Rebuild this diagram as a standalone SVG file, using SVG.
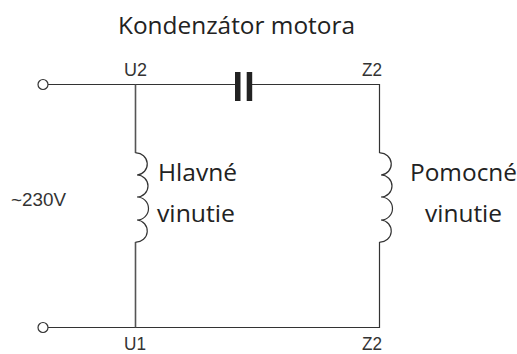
<svg xmlns="http://www.w3.org/2000/svg" width="517" height="354" viewBox="0 0 517 354">
<style>
.w{fill:none;stroke:#333;stroke-width:1.2}
.v{fill:none;stroke:#555;stroke-width:1.6}
.c{fill:none;stroke:#333;stroke-width:1.2}
.t{fill:#fff;stroke:#333;stroke-width:1.2}
.l{font-family:"Open Sans",sans-serif;font-size:24px;fill:#222}
.s{font-family:"Liberation Sans",sans-serif;font-size:18px;fill:#333}
</style>
<rect width="517" height="354" fill="#fff"/>
<g id="connectors">
<path class="w" d="M48 84.500H236M252 84.500H379.500V153M379.500 242V327.500H48"/>
<path class="v" d="M135.500 84.500V153M135.500 242V327.500"/>
</g>
<g id="terminal-top"><circle class="t" cx="43" cy="84.500" r="5"/></g>
<g id="terminal-bottom"><circle class="t" cx="43" cy="327.500" r="5"/></g>
<g id="capacitor"><rect x="235" y="72" width="5.500" height="29" fill="#222"/><rect x="246.700" y="72" width="5.500" height="29" fill="#222"/></g>
<g id="main-coil"><path class="c" d="M135.500 153A11 11 0 0 1 137 175A11 11 0 0 1 137 197A11 11 0 0 1 137 220A11 11 0 0 1 135.500 242"/></g>
<g id="aux-coil"><path class="c" d="M379.500 153A11 11 0 0 1 381 175A11 11 0 0 1 381 197A11 11 0 0 1 381 220A11 11 0 0 1 379.500 242"/></g>
<g id="labels">
<text class="l" x="118" y="33.500" textLength="237" lengthAdjust="spacingAndGlyphs">Kondenzátor motora</text>
<text class="s" x="124" y="76" textLength="23" lengthAdjust="spacingAndGlyphs">U2</text>
<text class="s" x="362" y="76" textLength="20" lengthAdjust="spacingAndGlyphs">Z2</text>
<text class="s" x="124" y="350" textLength="22" lengthAdjust="spacingAndGlyphs">U1</text>
<text class="s" x="362" y="350" textLength="20" lengthAdjust="spacingAndGlyphs">Z2</text>
<text class="s" x="11" y="206" textLength="55" lengthAdjust="spacingAndGlyphs">~230V</text>
<text class="l" x="158" y="181" textLength="79" lengthAdjust="spacingAndGlyphs">Hlavné</text>
<text class="l" x="157" y="222" textLength="78" lengthAdjust="spacingAndGlyphs">vinutie</text>
<text class="l" x="410" y="181" textLength="107" lengthAdjust="spacingAndGlyphs">Pomocné</text>
<text class="l" x="425" y="222" textLength="77" lengthAdjust="spacingAndGlyphs">vinutie</text>
</g>
</svg>
